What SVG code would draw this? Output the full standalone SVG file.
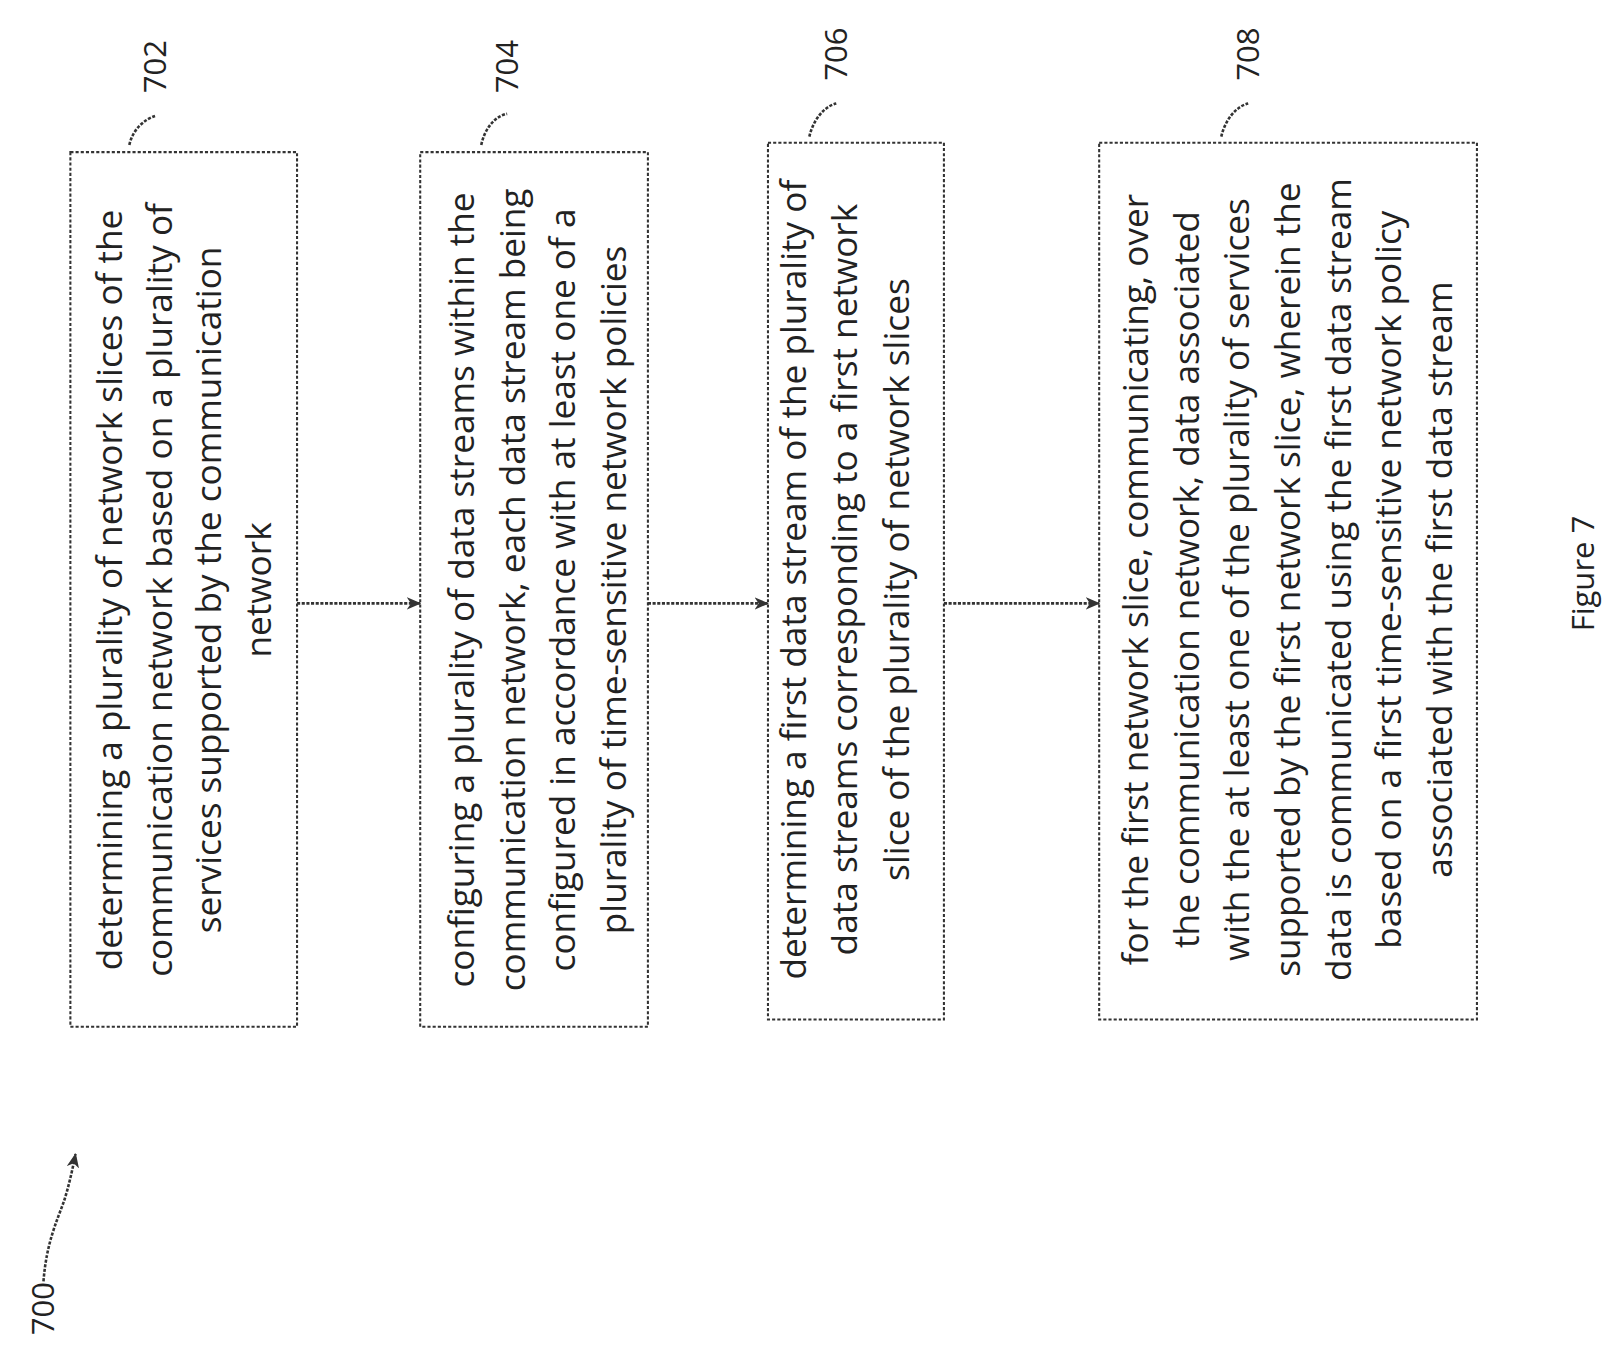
<svg xmlns="http://www.w3.org/2000/svg" width="1619" height="1345" viewBox="0 0 1619 1345">
<style>
.b{fill:none;stroke:#333;stroke-width:2;stroke-dasharray:3 2}
.t{font-family:"Open Sans",sans-serif;font-size:34px;fill:#222;text-anchor:middle}
.l{font-family:"Open Sans",sans-serif;font-size:30px;fill:#222}
.c{fill:none;stroke:#333;stroke-width:2.5;stroke-dasharray:3 1.5}
</style>
<defs><marker id="a" markerWidth="14" markerHeight="12" refX="13" refY="6" orient="auto" markerUnits="userSpaceOnUse"><path d="M0,0 L14,6 L0,12 L4,6 Z" fill="#333"/></marker></defs>
<rect width="1619" height="1345" fill="#fff"/>
<g transform="scale(1.035)">
<g id="n702">
<rect class="b" x="68" y="147" width="219" height="845"/>
<g class="t">
<text transform="translate(118,570) rotate(-90)">determining a plurality of network slices of the</text>
<text transform="translate(166,570) rotate(-90)">communication network based on a plurality of</text>
<text transform="translate(214,570) rotate(-90)">services supported by the communication</text>
<text transform="translate(262,570) rotate(-90)">network</text>
</g>
<path class="c" d="M125,140 C128,125 140,115 150,112"/>
<text class="l" transform="translate(160,90) rotate(-90)">702</text>
</g>
<g id="n704">
<rect class="b" x="406" y="147" width="220" height="845"/>
<g class="t">
<text transform="translate(458,570) rotate(-90)">configuring a plurality of data streams within the</text>
<text transform="translate(507,570) rotate(-90)">communication network, each data stream being</text>
<text transform="translate(556,570) rotate(-90)">configured in accordance with at least one of a</text>
<text transform="translate(605,570) rotate(-90)">plurality of time-sensitive network policies</text>
</g>
<path class="c" d="M465,140 C468,125 478,112 490,110"/>
<text class="l" transform="translate(500,90) rotate(-90)">704</text>
</g>
<g id="n706">
<rect class="b" x="742" y="138" width="170" height="847"/>
<g class="t">
<text transform="translate(779,560) rotate(-90)">determining a first data stream of the plurality of</text>
<text transform="translate(828,560) rotate(-90)">data streams corresponding to a first network</text>
<text transform="translate(878,560) rotate(-90)">slice of the plurality of network slices</text>
</g>
<path class="c" d="M782,132 C785,118 795,103 808,100"/>
<text class="l" transform="translate(818,78) rotate(-90)">706</text>
</g>
<g id="n708">
<rect class="b" x="1062" y="138" width="365" height="847"/>
<g class="t">
<text transform="translate(1109,560) rotate(-90)">for the first network slice, communicating, over</text>
<text transform="translate(1158,560) rotate(-90)">the communication network, data associated</text>
<text transform="translate(1207,560) rotate(-90)">with the at least one of the plurality of services</text>
<text transform="translate(1256,560) rotate(-90)">supported by the first network slice, wherein the</text>
<text transform="translate(1305,560) rotate(-90)">data is communicated using the first data stream</text>
<text transform="translate(1354,560) rotate(-90)">based on a first time-sensitive network policy</text>
<text transform="translate(1403,560) rotate(-90)">associated with the first data stream</text>
</g>
<path class="c" d="M1180,132 C1183,118 1193,103 1206,100"/>
<text class="l" transform="translate(1216,78) rotate(-90)">708</text>
</g>
<g id="connectors">
<line class="c" x1="287" y1="583" x2="406" y2="583" marker-end="url(#a)"/>
<line class="c" x1="626" y1="583" x2="742" y2="583" marker-end="url(#a)"/>
<line class="c" x1="912" y1="583" x2="1062" y2="583" marker-end="url(#a)"/>
<path class="c" d="M42,1238 C45,1200 55,1180 62,1160 C66,1148 70,1130 73,1115" marker-end="url(#a)"/>
</g>
<text class="l" transform="translate(52,1290) rotate(-90)">700</text>
<text class="l" transform="translate(1540,610) rotate(-90)">Figure 7</text>
</g>
</svg>
